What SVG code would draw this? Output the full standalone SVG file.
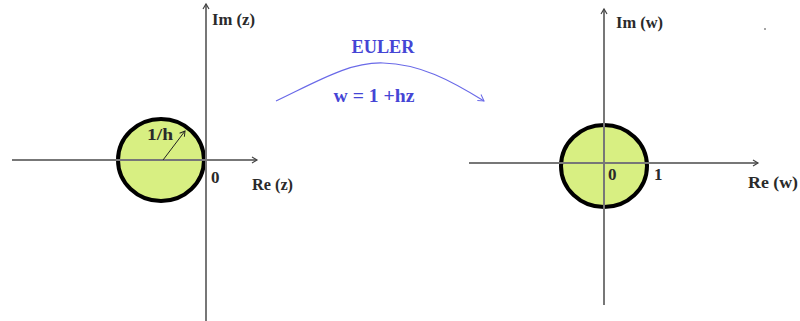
<svg xmlns="http://www.w3.org/2000/svg" width="800" height="321" viewBox="0 0 800 321">
<style>
.axis{stroke:#777;stroke-width:2;fill:none}
.disk{fill:#d8ef82;stroke:#000;stroke-width:4}
.lbl{font-family:"Liberation Serif",serif;font-weight:bold;font-size:17px;fill:#2a2a2a}
.blue{font-family:"Liberation Serif",serif;font-weight:bold;fill:#4545d5}
</style>
<defs>
<marker id="ah" markerWidth="8" markerHeight="8" refX="6" refY="4" orient="auto" markerUnits="userSpaceOnUse">
<path d="M1,1 L6,4 L1,7" fill="none" stroke="#444" stroke-width="1.2"/>
</marker>
<marker id="ahb" markerWidth="10" markerHeight="10" refX="7" refY="5" orient="auto" markerUnits="userSpaceOnUse">
<path d="M1,1 L7,5 L1,8" fill="none" stroke="#6a6ae8" stroke-width="1"/>
</marker>
<marker id="ahk" markerWidth="8" markerHeight="8" refX="6" refY="4" orient="auto" markerUnits="userSpaceOnUse">
<path d="M1,1 L6,4 L1,7" fill="none" stroke="#222" stroke-width="1"/>
</marker>
</defs>
<rect width="800" height="321" fill="#fff"/>
<g id="z-plane">
<ellipse class="disk" cx="161" cy="160" rx="43" ry="41"/>
<line class="axis" x1="12" y1="160" x2="257" y2="160" marker-end="url(#ah)"/>
<line class="axis" x1="206" y1="321" x2="206" y2="4" marker-end="url(#ah)"/>
<line x1="163" y1="160" x2="185" y2="131" stroke="#222" stroke-width="1" marker-end="url(#ahk)"/>
<text class="lbl" x="212" y="25" textLength="43" lengthAdjust="spacingAndGlyphs">Im (z)</text>
<text class="lbl" x="147" y="140" textLength="26" lengthAdjust="spacingAndGlyphs">1/h</text>
<text class="lbl" x="211" y="183">0</text>
<text class="lbl" x="252" y="190" textLength="41" lengthAdjust="spacingAndGlyphs">Re (z)</text>
</g>
<g id="mapping">
<path d="M276,101 C320,80 350,62 383,63 C420,64 450,80 484,101" fill="none" stroke="#6a6ae8" stroke-width="1.2" marker-end="url(#ahb)"/>
<text class="blue" x="383" y="53" font-size="19" text-anchor="middle" textLength="63" lengthAdjust="spacingAndGlyphs">EULER</text>
<text class="blue" x="374" y="102" font-size="18" text-anchor="middle" textLength="81" lengthAdjust="spacingAndGlyphs">w = 1 +hz</text>
</g>
<g id="w-plane">
<ellipse class="disk" cx="604" cy="166" rx="43" ry="41"/>
<line class="axis" x1="469" y1="163" x2="758" y2="163" marker-end="url(#ah)"/>
<line class="axis" x1="604" y1="305" x2="604" y2="9" marker-end="url(#ah)"/>
<text class="lbl" x="616" y="28" textLength="47" lengthAdjust="spacingAndGlyphs">Im (w)</text>
<text class="lbl" x="608" y="180">0</text>
<text class="lbl" x="654" y="180">1</text>
<text class="lbl" x="748" y="188" textLength="50" lengthAdjust="spacingAndGlyphs">Re (w)</text>
<circle cx="765" cy="29" r="0.8" fill="#333"/>
</g>
</svg>
